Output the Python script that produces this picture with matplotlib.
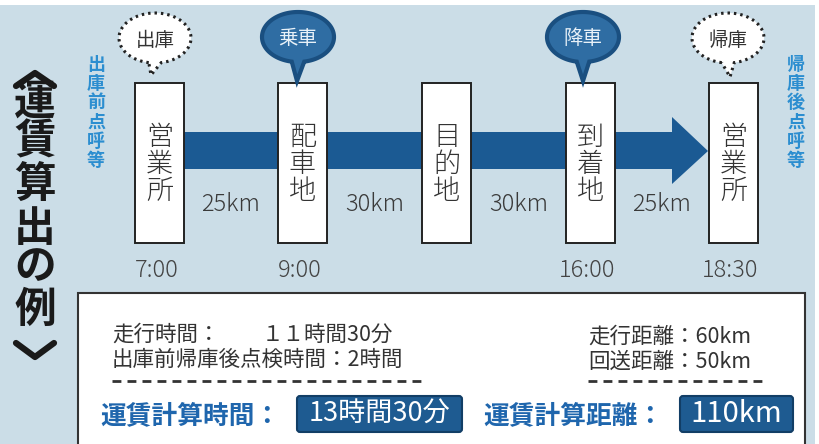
import matplotlib
matplotlib.use("Agg")
import matplotlib.pyplot as plt
from matplotlib.patches import Rectangle, Polygon, FancyBboxPatch
import numpy as np

plt.rcParams['font.family'] = ['Noto Sans CJK JP', 'DejaVu Sans']

# ---- data ----
stops = ["営業所", "配車地", "目的地", "到着地", "営業所"]
times = ["7:00", "9:00", "", "16:00", "18:30"]
legs = ["25km", "30km", "30km", "25km"]
bubbles = ["出庫", "乗車", "", "降車", "帰庫"]
bubble_dark = [False, True, None, True, False]
side_left = "出庫前点呼等"
side_right = "帰庫後点呼等"
title_chars = ["運", "賃", "算", "出", "の", "例"]
time_lines = ["走行時間：", "出庫前帰庫後点検時間：2時間"]
time_value = "１１時間30分"
dist_lines = ["走行距離：60km", "回送距離：50km"]
fare_time_label = "運賃計算時間："
fare_time = "13時間30分"
fare_dist_label = "運賃計算距離："
fare_dist = "110km"

# ---- layout ----
box_x = [135, 278, 422, 566, 709]
box_w = 49
box_top, box_bot = 83, 243
bg = "#cbdde7"
navy = "#1b5a93"
blue_txt = "#1f66ad"
side_blue = "#2c8ed0"

fig = plt.figure(figsize=(8.2, 4.44), dpi=100)
ax = fig.add_axes([0, 0, 1, 1])
ax.set_xlim(0, 820)
ax.set_ylim(444, 0)
ax.axis("off")
fig.patch.set_facecolor("white")

ax.add_patch(Rectangle((0, 5), 815, 439, facecolor=bg, edgecolor="none", zorder=0))

# arrow
ax.add_patch(Polygon([(184, 132), (672, 132), (672, 117), (708, 151),
                      (672, 184), (672, 169), (184, 169)],
                     closed=True, facecolor=navy, edgecolor="none", zorder=1))

# boxes and labels
for i, (x, name) in enumerate(zip(box_x, stops)):
    ax.add_patch(Rectangle((x, box_top), box_w, box_bot - box_top,
                           facecolor="white", edgecolor="#222222", lw=1.4, zorder=2))
    for j, ch in enumerate(name):
        ax.text(x + box_w / 2, 137 + j * 27, ch, fontsize=19.5, color="#333333",
                ha="center", va="center", fontweight="light", zorder=3)
    if times[i]:
        ax.text(x + box_w / 2 - 3, 270, times[i], fontsize=17, color="#444444",
                ha="center", va="center", fontweight="light", zorder=3)

# leg distances
for i, d in enumerate(legs):
    cx = (box_x[i] + box_w + box_x[i + 1]) / 2
    ax.text(cx, 204, d, fontsize=17, color="#3a3a3a", ha="center", va="center",
            fontweight="light", zorder=3)

# bubbles
def bubble(cx, cy, tipx, tipy, dark, label):
    a, b = 36, 25
    t = np.radians(np.linspace(100, 440, 120))
    pts = list(zip(cx + a * np.cos(t), cy + b * np.sin(t)))
    pts.append((tipx, tipy))
    if dark:
        p = Polygon(pts, closed=True, facecolor="#2f6da3", edgecolor="#1a4f80",
                    lw=3, zorder=4)
        col = "#e8f1f8"
    else:
        p = Polygon(pts, closed=True, facecolor="white", edgecolor="#222222",
                    lw=2.2, linestyle=(0, (0.8, 1.3)), zorder=4)
        col = "#333333"
    ax.add_patch(p)
    ax.text(cx, cy + 2, label, fontsize=14, color=col, ha="center", va="center", zorder=5)

bubble_pos = [(155, 38, 151, 75), (298, 37, 297, 81), None, (583, 37, 583, 81), (728, 38, 730, 77)]
for lab, dk, pos in zip(bubbles, bubble_dark, bubble_pos):
    if lab:
        bubble(*pos, dk, lab)

# side vertical texts
for j, ch in enumerate(side_left):
    ax.text(96, 64 + j * 19.3, ch, fontsize=13, color=side_blue, ha="center",
            va="center", fontweight="bold", zorder=3)
for j, ch in enumerate(side_right):
    ax.text(796, 64 + j * 19.3, ch, fontsize=13, color=side_blue, ha="center",
            va="center", fontweight="bold", zorder=3)

# title (vertical) with angle brackets drawn as strokes
title_y = [103, 142, 185, 229, 267, 310]
for ch, y in zip(title_chars, title_y):
    ax.text(35, y, ch, fontsize=30, color="#1a1a1a", ha="center", va="center",
            fontweight="bold", zorder=3)
ax.plot([16, 35, 54], [86, 73, 86], color="#1a1a1a", lw=4.5, solid_capstyle="round",
        solid_joinstyle="round", zorder=3)
ax.plot([16, 35, 54], [343, 357, 343], color="#1a1a1a", lw=4.5, solid_capstyle="round",
        solid_joinstyle="round", zorder=3)

# bottom panel
ax.add_patch(Rectangle((78, 293), 727, 160, facecolor="white", edgecolor="#333333",
                       lw=1.5, zorder=2))
ax.text(112, 335, time_lines[0], fontsize=15.5, color="#333333", ha="left", va="center", zorder=3)
ax.text(262, 335, time_value, fontsize=15.5, color="#333333", ha="left", va="center", zorder=3)
ax.text(112, 360, time_lines[1], fontsize=15.5, color="#333333", ha="left", va="center", zorder=3)
ax.plot([112, 427], [381, 381], color="#333333", lw=2, linestyle=(0, (3.2, 2.2)), zorder=3)
ax.text(588, 337, dist_lines[0], fontsize=15.5, color="#333333", ha="left", va="center", zorder=3)
ax.text(588, 362, dist_lines[1], fontsize=15.5, color="#333333", ha="left", va="center", zorder=3)
ax.plot([588, 765], [381, 381], color="#333333", lw=2, linestyle=(0, (3.2, 2.2)), zorder=3)

ax.text(100, 416, fare_time_label, fontsize=18.5, color=blue_txt, ha="left", va="center",
        fontweight="bold", zorder=3)
ax.text(483, 416, fare_dist_label, fontsize=18.5, color=blue_txt, ha="left", va="center",
        fontweight="bold", zorder=3)

for (x0, x1), val, fs in [((297, 462), fare_time, 19.5), ((680, 793), fare_dist, 21)]:
    ax.add_patch(FancyBboxPatch((x0, 396), x1 - x0, 36,
                                boxstyle="round,pad=0,rounding_size=3",
                                facecolor="#1e5b91", edgecolor="#123e66", lw=1.5, zorder=3))
    ax.text((x0 + x1) / 2, 414, val, fontsize=fs, color="white", ha="center",
            va="center", zorder=4)

fig.savefig("out.png", dpi=100)
